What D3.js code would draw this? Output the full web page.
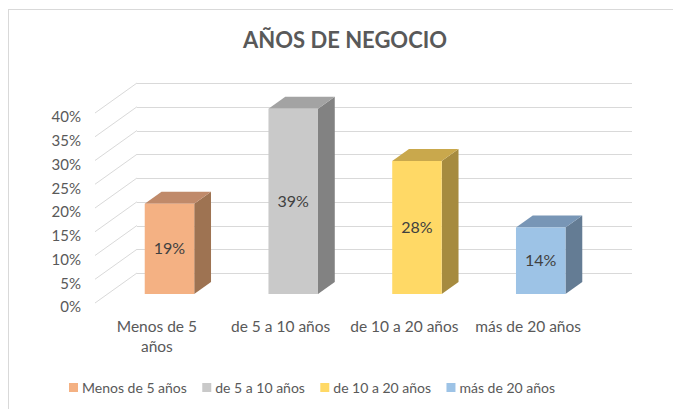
<!DOCTYPE html>
<html>
<head>
<meta charset="utf-8">
<script src="https://cdn.jsdelivr.net/npm/d3@7"></script>
<style>
  body { margin: 0; background: #fff; }
  text { font-family: Lato, "Open Sans", sans-serif; }
</style>
</head>
<body>
<div id="chart"></div>
<script>
// datos
const categories = ["Menos de 5 años", "de 5 a 10 años", "de 10 a 20 años", "más de 20 años"];
const axisLabels = [["Menos de 5", "años"], ["de 5 a 10 años"], ["de 10 a 20 años"], ["más de 20 años"]];
const values = [19, 39, 28, 14];
const yTicks = [0, 5, 10, 15, 20, 25, 30, 35, 40];
const frontColors = ["#F4B183", "#C9C9C9", "#FFD966", "#9DC3E6"];
const topColors = ["#C08A6A", "#A3A3A3", "#C9A84C", "#7896B6"];
const sideColors = ["#9E7352", "#828282", "#A68B3F", "#647C94"];

const svgWidth = 673, svgHeight = 409;
const depth = { dx: 42, dy: 30 };   // profundidad del suelo
const barFront = 0.3, barBack = 0.7; // posicion de la barra en la profundidad

const svg = d3.select("#chart").append("svg")
    .attr("width", svgWidth)
    .attr("height", svgHeight);

// marco
svg.append("rect")
    .attr("x", 8.5).attr("y", 9.5)
    .attr("width", 700).attr("height", 420)
    .attr("fill", "#fff")
    .attr("stroke", "#D9D9D9");

// titulo
svg.append("text")
    .attr("x", 345).attr("y", 48)
    .attr("text-anchor", "middle")
    .style("font-size", "22px")
    .style("font-weight", "bold")
    .style("fill", "#595959")
    .text("AÑOS DE NEGOCIO");

const x = d3.scaleBand()
    .domain(categories)
    .range([95, 590])
    .paddingInner(0.6)
    .paddingOuter(0.3);

const y = d3.scaleLinear()
    .domain([0, 40])
    .range([303, 113]);

// lineas de la pared del fondo
const grid = svg.append("g").attr("stroke", "#D9D9D9").attr("stroke-width", 1).attr("fill", "none");
grid.selectAll("line.wall")
    .data(yTicks)
    .enter().append("line")
    .attr("class", "wall")
    .attr("x1", x.range()[0] + depth.dx)
    .attr("x2", x.range()[1] + depth.dx)
    .attr("y1", d => Math.round(y(d) - depth.dy) + 0.5)
    .attr("y2", d => Math.round(y(d) - depth.dy) + 0.5);
grid.selectAll("line.side")
    .data(yTicks)
    .enter().append("line")
    .attr("class", "side")
    .attr("x1", x.range()[0])
    .attr("x2", x.range()[0] + depth.dx)
    .attr("y1", d => y(d))
    .attr("y2", d => y(d) - depth.dy);

// eje y
const yAxis = svg.append("g")
    .attr("transform", "translate(81,4)")
    .call(d3.axisLeft(y).tickValues(yTicks).tickSize(0).tickFormat(d => d + "%"));
yAxis.select(".domain").remove();
yAxis.selectAll("text")
    .attr("x", 0)
    .style("font-family", "Lato, sans-serif")
    .style("font-size", "15px")
    .style("fill", "#595959");

// barras 3D
const bw = x.bandwidth();
const ox = barFront * depth.dx, oy = barFront * depth.dy;
const ddx = (barBack - barFront) * depth.dx, ddy = (barBack - barFront) * depth.dy;

const bars = svg.selectAll("g.bar")
    .data(categories.map((c, i) => ({ cat: c, value: values[i], i: i })))
    .enter().append("g")
    .attr("class", "bar");

bars.each(function (d) {
    const g = d3.select(this);
    const x0 = x(d.cat) + ox, x1 = x0 + bw;
    const base = y(0) - oy, top = y(d.value) - oy;
    g.append("polygon")
        .attr("points", [[x1, top], [x1 + ddx, top - ddy], [x1 + ddx, base - ddy], [x1, base]].join(" "))
        .attr("fill", sideColors[d.i]);
    g.append("polygon")
        .attr("points", [[x0, top], [x0 + ddx, top - ddy], [x1 + ddx, top - ddy], [x1, top]].join(" "))
        .attr("fill", topColors[d.i]);
    g.append("rect")
        .attr("x", x0).attr("y", top)
        .attr("width", bw).attr("height", base - top)
        .attr("fill", frontColors[d.i]);
    g.append("text")
        .attr("x", x0 + bw / 2)
        .attr("y", (top + base) / 2)
        .attr("dy", "0.35em")
        .attr("text-anchor", "middle")
        .style("font-size", "16px")
        .style("fill", "#404040")
        .text(Math.round(d.value) + "%");
});

// etiquetas del eje x
const xLabels = svg.selectAll("text.xlab")
    .data(categories)
    .enter().append("text")
    .attr("class", "xlab")
    .attr("x", d => x(d) + x.bandwidth() / 2)
    .attr("y", 332)
    .attr("text-anchor", "middle")
    .style("font-size", "15.5px")
    .style("fill", "#595959");
xLabels.each(function (d, i) {
    const t = d3.select(this);
    axisLabels[i].forEach((line, k) => {
        t.append("tspan")
            .attr("x", t.attr("x"))
            .attr("dy", k === 0 ? 0 : 20)
            .text(line);
    });
});

// leyenda (de x=69 a x=555)
const legendLeft = 69, legendRight = 555;
const legend = svg.append("g").attr("transform", `translate(${legendLeft},388)`);
const items = legend.selectAll("g")
    .data(categories)
    .enter().append("g");
items.append("rect")
    .attr("width", 9).attr("height", 9)
    .attr("y", -5)
    .attr("fill", (d, i) => frontColors[i]);
items.append("text")
    .attr("x", 13)
    .attr("dy", "0.35em")
    .style("font-size", "14px")
    .style("fill", "#595959")
    .text(d => d);
const widths = [];
items.each(function () { widths.push(this.getBBox().width); });
const gap = (legendRight - legendLeft - d3.sum(widths)) / (widths.length - 1);
let lx = 0;
items.each(function (d, i) {
    d3.select(this).attr("transform", `translate(${lx},0)`);
    lx += widths[i] + gap;
});
</script>
</body>
</html>
